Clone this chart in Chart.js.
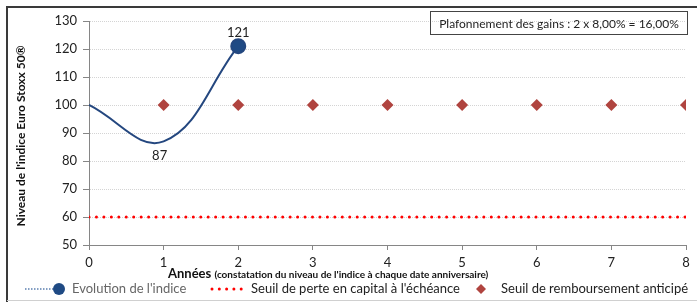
<!DOCTYPE html>
<html>
<head>
<meta charset="utf-8">
<script src="https://cdn.jsdelivr.net/npm/chart.js@4/dist/chart.umd.min.js"></script>
<style>
  html, body { margin: 0; padding: 0; background: #fff; }
  #wrap { position: relative; width: 697px; height: 302px; }
</style>
</head>
<body>
<div id="wrap"><canvas id="chart" width="697" height="302"></canvas></div>
<script>
// données
const annees = [0, 1, 2, 3, 4, 5, 6, 7, 8];
const indiceAnnees = [0, 1, 2];
const indiceValeurs = [100, 87, 121];
const seuilPerte = 60;
const seuilRemboursement = 100;
const remboursementAnnees = [1, 2, 3, 4, 5, 6, 7, 8];
const yTicks = [50, 60, 70, 80, 90, 100, 110, 120, 130];

const FONT = 'Lato, "Liberation Sans", sans-serif';

// étiquettes de valeurs, titres, légende, cadre
const decor = {
  id: 'decor',
  beforeDraw(chart) {
    const ctx = chart.ctx;
    ctx.save();
    ctx.fillStyle = '#fff';
    ctx.fillRect(0, 0, chart.width, chart.height);
    ctx.strokeStyle = '#3a3a3a';
    ctx.lineWidth = 2;
    ctx.beginPath();
    ctx.moveTo(7, chart.height);
    ctx.lineTo(7, 7);
    ctx.lineTo(chart.width, 7);
    ctx.stroke();
    ctx.strokeStyle = '#d0d0d0';
    ctx.lineWidth = 1;
    ctx.beginPath();
    ctx.moveTo(7, 300.5);
    ctx.lineTo(chart.width, 300.5);
    ctx.stroke();
    ctx.restore();
  },
  afterDraw(chart) {
    const ctx = chart.ctx;
    const y = chart.scales.y;
    ctx.save();

    // étiquettes 121 / 87
    const meta = chart.getDatasetMeta(0);
    ctx.fillStyle = '#222';
    ctx.font = '13px ' + FONT;
    ctx.textAlign = 'center';
    ctx.textBaseline = 'middle';
    const p1 = meta.data[1], p2 = meta.data[2];
    ctx.fillText(String(indiceValeurs[1]), p1.x - 4, p1.y + 14);
    ctx.fillText(String(indiceValeurs[2]), p2.x, p2.y - 13);

    // titre axe Y
    ctx.save();
    ctx.translate(21, (y.top + y.bottom) / 2 + 3);
    ctx.rotate(-Math.PI / 2);
    ctx.font = 'bold 12px ' + FONT;
    ctx.fillStyle = '#111';
    ctx.fillText("Niveau de l'indice Euro Stoxx 50\u00AE", 0, 0);
    ctx.restore();

    // titre axe X
    ctx.textAlign = 'left';
    ctx.textBaseline = 'alphabetic';
    ctx.fillStyle = '#111';
    ctx.font = 'bold 13px ' + FONT;
    const t1 = 'Années ';
    const w1 = ctx.measureText(t1).width;
    ctx.fillText(t1, 168, 278);
    ctx.font = 'bold 10px ' + FONT;
    ctx.fillText("(constatation du niveau de l'indice à chaque date anniversaire)", 168 + w1, 278);

    // cadre plafonnement
    ctx.strokeStyle = '#444';
    ctx.lineWidth = 1;
    ctx.strokeRect(430.5, 11.5, 257, 23);
    ctx.font = '12px ' + FONT;
    ctx.fillStyle = '#222';
    ctx.textAlign = 'center';
    ctx.textBaseline = 'middle';
    ctx.fillText('Plafonnement des gains : 2 x 8,00% = 16,00%', 559, 24);

    // légende
    const ly = 289;
    ctx.strokeStyle = '#5b7fb0';
    ctx.lineWidth = 1.5;
    ctx.setLineDash([1.5, 1.5]);
    ctx.beginPath();
    ctx.moveTo(25, ly); ctx.lineTo(58, ly);
    ctx.stroke();
    ctx.setLineDash([]);
    ctx.fillStyle = '#1f4a84';
    ctx.beginPath();
    ctx.arc(59, ly, 6, 0, Math.PI * 2);
    ctx.fill();
    ctx.textAlign = 'left';
    ctx.fillStyle = '#666';
    ctx.font = '13px ' + FONT;
    ctx.fillText("Evolution de l'indice", 72, ly);

    ctx.fillStyle = '#ff0000';
    for (let i = 0; i < 5; i++) {
      ctx.beginPath();
      ctx.arc(212 + i * 7.3, ly, 1.5, 0, Math.PI * 2);
      ctx.fill();
    }
    ctx.fillStyle = '#222';
    ctx.fillText("Seuil de perte en capital à l'échéance", 251, ly);

    ctx.fillStyle = '#b0443f';
    ctx.beginPath();
    ctx.moveTo(481, ly - 5); ctx.lineTo(486, ly); ctx.lineTo(481, ly + 5); ctx.lineTo(476, ly);
    ctx.closePath();
    ctx.fill();
    ctx.fillStyle = '#222';
    ctx.fillText('Seuil de remboursement anticipé', 501, ly);

    ctx.restore();
  }
};

new Chart(document.getElementById('chart'), {
  type: 'line',
  data: {
    datasets: [
      {
        label: "Evolution de l'indice",
        data: indiceAnnees.map((a, i) => ({ x: a, y: indiceValeurs[i] })),
        borderColor: '#24477f',
        backgroundColor: '#1f4a84',
        borderWidth: 2,
        tension: 0.4,
        pointRadius: indiceAnnees.map((a, i) => i === indiceAnnees.length - 1 ? 7 : 0),
        pointHoverRadius: 0
      },
      {
        label: "Seuil de perte en capital à l'échéance",
        data: [{ x: annees[0], y: seuilPerte }, { x: annees[annees.length - 1], y: seuilPerte }],
        borderColor: '#ff0000',
        borderWidth: 3,
        borderDash: [0, 7.45],
        borderCapStyle: 'round',
        pointRadius: 0
      },
      {
        label: 'Seuil de remboursement anticipé',
        data: remboursementAnnees.map(a => ({ x: a, y: seuilRemboursement })),
        showLine: false,
        pointStyle: 'rectRot',
        pointRadius: 6,
        pointBackgroundColor: '#b0443f',
        pointBorderColor: '#b0443f',
        pointBorderWidth: 0
      }
    ]
  },
  options: {
    responsive: false,
    animation: false,
    events: [],
    layout: { padding: { left: 0, right: 11, top: 21, bottom: 0 } },
    plugins: { legend: { display: false }, tooltip: { enabled: false } },
    scales: {
      x: {
        type: 'linear',
        min: annees[0],
        max: annees[annees.length - 1],
        afterFit: s => { s.height = 57; },
        ticks: { stepSize: 1, color: '#222', font: { family: FONT, size: 13 }, padding: 5 },
        grid: { drawOnChartArea: false, tickLength: 5, color: '#868686' },
        border: { color: '#868686' }
      },
      y: {
        min: yTicks[0],
        max: yTicks[yTicks.length - 1],
        afterFit: s => { s.width = 89; },
        afterBuildTicks: s => { s.ticks = yTicks.map(v => ({ value: v })); },
        ticks: { color: '#222', font: { family: FONT, size: 13 }, padding: 6 },
        grid: { color: '#d4d4d4', tickColor: '#868686', tickLength: 6, tickBorderDash: [] },
        border: { color: '#868686', dash: [1, 1] }
      }
    }
  },
  plugins: [decor]
});
</script>
</body>
</html>
